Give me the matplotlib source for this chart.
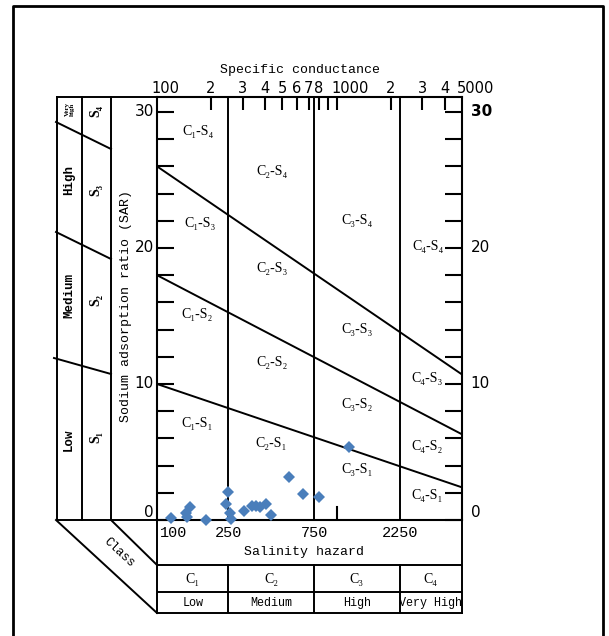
import numpy as np
import matplotlib.pyplot as plt
from matplotlib import transforms

# sample data: specific conductance (uS/cm) and sodium adsorption ratio
ec = [119, 145, 153, 147, 187, 248, 242, 255, 258, 305, 337, 357, 375, 405, 430, 546, 648, 802, 1178]
sar = [0.12, 0.54, 0.93, 0.20, 0.0, 2.08, 1.18, 0.49, 0.05, 0.66, 1.03, 1.03, 0.98, 1.18, 0.37, 3.14, 1.90, 1.67, 5.39]

# salinity class limits and sodium hazard boundary lines (SAR at 100 and 5000)
class_limits = [250, 750, 2250]
s_left = [10, 18, 26]
s_right = [2.4, 6.3, 10.7]

# top axis ticks and labels
top_ticks = [200, 300, 400, 500, 600, 700, 800, 900, 1000, 2000, 3000, 4000]
top_label_vals = [100, 200, 300, 400, 500, 600, 700, 800, 1000, 2000, 3000, 4000, 5000]
top_labels = ['100', '2', '3', '4', '5', '6', '7', '8', '1000', '2', '3', '4', '5000']
bottom_label_vals = [100, 250, 750, 2250]
sar_ticks = [0, 10, 20, 30]

# region labels
region_labels = ['C₁-S₄', 'C₂-S₄', 'C₁-S₃', 'C₃-S₄', 'C₄-S₄', 'C₂-S₃', 'C₁-S₂', 'C₃-S₃',
                 'C₂-S₂', 'C₄-S₃', 'C₃-S₂', 'C₁-S₁', 'C₂-S₁', 'C₄-S₂', 'C₃-S₁', 'C₄-S₁']
region_x = [170, 440, 174, 1300, 3250, 440, 168, 1300, 440, 3200, 1300, 168, 430, 3200, 1300, 3200]
region_y = [28.6, 25.6, 21.8, 22.0, 20.1, 18.5, 15.1, 14.0, 11.6, 10.4, 8.5, 7.1, 5.6, 5.4, 3.7, 1.8]

# class table
class_names = ['C₁', 'C₂', 'C₃', 'C₄']
class_words = ['Low', 'Medium', 'High', 'Very High']
class_edges = [100, 250, 750, 2250, 5000]

mono = ['Liberation Mono', 'DejaVu Sans Mono']
serif = ['Liberation Serif', 'DejaVu Serif']
sans = ['DejaVu Sans']

W, H = 609, 636
fig = plt.figure(figsize=(W / 100, H / 100), dpi=100)
fig.patch.set_facecolor('white')

# background axes in pixel coordinates for the frame decorations
bg = fig.add_axes([0, 0, 1, 1])
bg.set_xlim(0, W)
bg.set_ylim(H, 0)
bg.axis('off')

lw = 1.4
k = 'black'
# outer frame
bg.plot([13, 13, 603, 603], [650, 6, 6, 650], color=k, lw=2, clip_on=False)

# left panel
for xx in [57, 82, 111]:
    bg.plot([xx, xx], [97, 520], color=k, lw=lw)
bg.plot([57, 157], [97, 97], color=k, lw=lw)
bg.plot([57, 157], [520, 520], color=k, lw=lw)
bg.plot([56, 111], [122, 149], color=k, lw=lw)
bg.plot([56, 111], [232, 259], color=k, lw=lw)
bg.plot([54, 111], [358, 374], color=k, lw=lw)
# class diagonals
bg.plot([56, 157], [520, 613], color=k, lw=lw)
bg.plot([111, 157], [520, 565], color=k, lw=lw)

bg.text(70, 97 + 12, 'Very\nhigh', rotation=90, ha='center', va='center',
        fontsize=5, family=serif, fontweight='bold', linespacing=0.9)
bg.text(69, 180, 'High', rotation=90, ha='center', va='center', fontsize=9, family=mono, fontweight='bold')
bg.text(69, 296, 'Medium', rotation=90, ha='center', va='center', fontsize=9, family=mono, fontweight='bold')
bg.text(69, 440, 'Low', rotation=90, ha='center', va='center', fontsize=9, family=mono, fontweight='bold')
bg.text(96, 111, 'S₄', rotation=90, ha='center', va='center', fontsize=10, family=serif, fontweight='bold')
bg.text(96, 190, 'S₃', rotation=90, ha='center', va='center', fontsize=10, family=serif, fontweight='bold')
bg.text(96, 300, 'S₂', rotation=90, ha='center', va='center', fontsize=10, family=serif, fontweight='bold')
bg.text(96, 437, 'S₁', rotation=90, ha='center', va='center', fontsize=10, family=serif, fontweight='bold')
bg.text(126, 306, 'Sodium adsorption ratio (SAR)', rotation=90, ha='center', va='center',
        fontsize=9.5, family=mono)
bg.text(119, 553, 'Class', rotation=-43, ha='center', va='center', fontsize=9, family=mono)
bg.text(300, 70, 'Specific conductance', ha='center', va='center', fontsize=9.5, family=mono)

# main diagram
ax = fig.add_axes([157 / W, 1 - 520 / H, 305 / W, (520 - 97) / H])
ax.set_xscale('log')
ax.set_xlim(100, 5000)
ax.set_ylim(0, 31.1)
for sp in ax.spines.values():
    sp.set_linewidth(1.5)

ax.set_xticks(top_ticks)
ax.xaxis.set_minor_locator(plt.NullLocator())
ax.tick_params(axis='x', which='major', direction='in', top=True, bottom=False,
               length=9.5, width=1.5, labeltop=False, labelbottom=False)
ax.set_yticks(np.arange(0, 31, 2))
ax.yaxis.set_minor_locator(plt.NullLocator())
ax.tick_params(axis='y', direction='in', left=True, right=True, length=12, width=1.5,
               labelleft=False, labelright=False)
ax.axvline(1000, 0, 0.03, color=k, lw=1.5)

for c in class_limits:
    ax.axvline(c, color=k, lw=lw)
for a, b in zip(s_left, s_right):
    ax.plot([100, 5000], [a, b], color=k, lw=lw)

ax.plot(ec, sar, 'D', color='#4a7ebb', markersize=6.5, markeredgewidth=0, clip_on=False, zorder=5)

for lab, x, y in zip(region_labels, region_x, region_y):
    ax.text(x, y, lab, ha='center', va='center', fontsize=10, family=serif)

# axis labels
blend_y = transforms.blended_transform_factory(ax.transAxes, ax.transData)
blend_x = transforms.blended_transform_factory(ax.transData, ax.transAxes)
for v in sar_ticks:
    va = 'bottom' if v == 0 else 'center'
    ax.text(-0.01, v, str(v), transform=blend_y, ha='right', va=va, fontsize=11, family=sans)
    ax.text(1.028, v, str(v), transform=blend_y, ha='left', va=va, fontsize=11, family=sans,
            fontweight='bold' if v == 30 else 'normal')
for v, lab in zip(top_label_vals, top_labels):
    if len(lab) > 1:
        ax.annotate(lab, (v, 1), xycoords=blend_x, xytext=(-3.8, 0.5), textcoords='offset points',
                    ha='left', va='bottom', fontsize=10.5, family=sans)
    else:
        ax.annotate(lab, (v, 1), xycoords=blend_x, xytext=(0, 0.5), textcoords='offset points',
                    ha='center', va='bottom', fontsize=10.5, family=sans)

# bottom table
tab = fig.add_axes([157 / W, 1 - 613 / H, 305 / W, (613 - 520) / H])
tab.set_xscale('log')
tab.set_xlim(100, 5000)
tab.set_ylim(613, 520)
tab.axis('off')
tab.axhline(565, color=k, lw=lw)
tab.axhline(592, color=k, lw=lw)
tab.axhline(613, color=k, lw=lw, clip_on=False)
tab.axvline(100, color=k, lw=lw, clip_on=False)
tab.axvline(5000, color=k, lw=lw, clip_on=False)
for c in class_limits:
    tab.plot([c, c], [565, 613], color=k, lw=lw)
for v in bottom_label_vals:
    if v == 100:
        tab.annotate(str(v), (v, 533), xytext=(2, 0), textcoords='offset points',
                     ha='left', va='center', fontsize=11, family=mono)
    else:
        tab.text(v, 533, str(v), ha='center', va='center', fontsize=11, family=mono)
tab.text(np.sqrt(100 * 5000) * 0.93, 552, 'Salinity hazard', ha='center', va='center',
         fontsize=9.5, family=mono)
for i in range(4):
    xc = np.sqrt(class_edges[i] * class_edges[i + 1])
    tab.text(xc, 579, class_names[i], ha='center', va='center', fontsize=10, family=serif)
    tab.text(xc, 603, class_words[i], ha='center', va='center', fontsize=8.5, family=mono)

fig.savefig('out.png', dpi=100, facecolor='white')
